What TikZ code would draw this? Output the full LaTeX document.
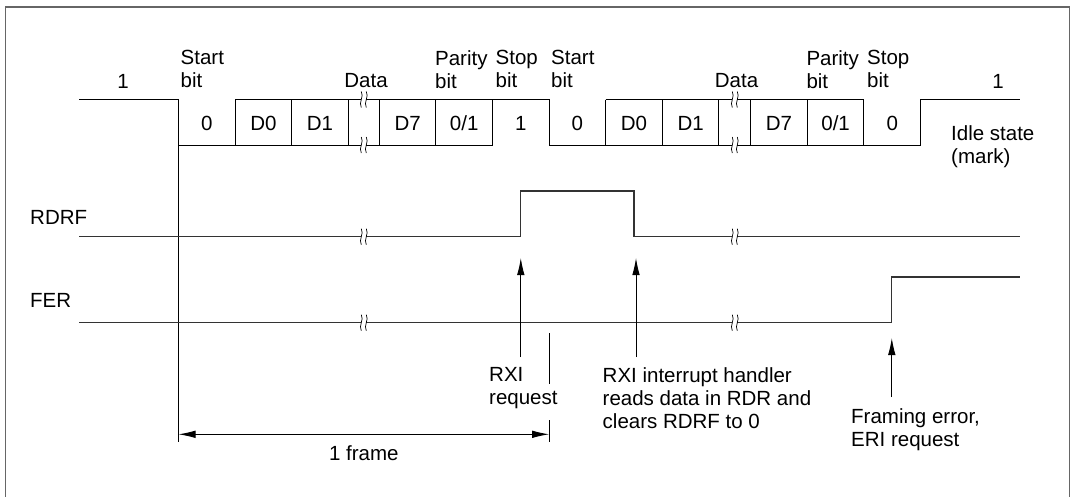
\documentclass[tikz,border=0pt]{standalone}
\usepackage{fontspec}
\setmainfont{Liberation Sans}
\usetikzlibrary{arrows.meta}

\tikzset{
  wave/.style={line width=1pt},
  flagline/.style={line width=1.3pt, black!80},
  txt/.style={inner sep=0pt, align=left},
  multi/.style={txt, anchor=north west, execute at begin node={\rule{0pt}{15pt}}},
  evt/.style={-{Latex[length=17pt,width=7.5pt]}, line width=0.9pt},
}

\begin{document}
\begin{tikzpicture}[x=1pt, y=-1pt, font=\fontsize{20.5}{23.3}\selectfont]
  \useasboundingbox (0,0) rectangle (1074,496);

  % Frame
  \draw[black!60, line width=1.2pt] (5.5,497) -- (5.5,7) -- (1069.5,7) -- (1069.5,497);

  % Serial data line
  \draw[wave] (79,99.5) -- (178.5,99.5) -- (178.5,442);
  \draw[wave] (178.5,145) -- (492.5,145) -- (492.5,99.5);
  \draw[wave] (235.1,99.5) -- (549.1,99.5) -- (549.1,145) -- (920.5,145) -- (920.5,99.5) -- (1019.5,99.5);
  \draw[wave] (605.7,99.5) -- (863.9,99.5);
  \foreach \x in {235.1,291.7,348.3,379.3,435.9,605.7,662.3,718.9,750.7,807.3,863.9}
    \draw[wave] (\x,99.5) -- (\x,145);

  % RDRF and FER flags
  \draw[flagline] (79,236.7) -- (520.8,236.7) -- (520.8,191) -- (634,191) -- (634,236.7) -- (1019.5,236.7);
  \draw[flagline] (79,322.7) -- (891.8,322.7) -- (891.8,277) -- (1019.5,277);

  % Break marks
  \foreach \bx in {363.8,734.8}
    \foreach \by in {99.5,145,236.7,322.7}{
      \fill[white] (\bx-2.5,\by-1.5) rectangle (\bx+2.5,\by+1.5);
      \draw[line width=0.7pt] (\bx-2.5,\by-8) .. controls (\bx+0.5,\by-3) and (\bx-5.5,\by+3) .. (\bx-2.5,\by+8);
      \draw[line width=0.7pt] (\bx+2.5,\by-8) .. controls (\bx+5.5,\by-3) and (\bx-0.5,\by+3) .. (\bx+2.5,\by+8);
    }

  % Bit labels above the line
  \node[txt, anchor=base] (idleA) at (123,88) {1};
  \node[multi] (startA) at (180.5,50) {Start\\bit};
  \node[txt, anchor=base] (dataA) at (366,87) {Data};
  \node[multi] (parityA) at (434.9,50) {Parity\\bit};
  \node[multi] (stopA) at (495.5,50) {Stop\\bit};
  \node[multi] (startB) at (551,50) {Start\\bit};
  \node[txt, anchor=base] (dataB) at (736.5,87) {Data};
  \node[multi] (parityB) at (806.3,50) {Parity\\bit};
  \node[multi] (stopB) at (867,50) {Stop\\bit};
  \node[txt, anchor=base] (idleB) at (998,88) {1};
  \node[multi] (idle) at (951,125) {Idle state\\(mark)};

  % Bit values
  \foreach \x/\t [count=\i] in {206.8/0,263.4/D0,320/D1,407.6/D7,464.2/0\slash 1,520.8/1,
      577.4/0,634/D0,690.6/D1,779/D7,835.6/0\slash 1,892.2/0}
    \node[txt, anchor=base] (bit\i) at (\x,130) {\t};

  % Signal names
  \node[txt, anchor=base west] (rdrf) at (30,224.3) {RDRF};
  \node[txt, anchor=base west] (fer) at (30,307.5) {FER};

  % Events
  \coordinate (rxiTip) at (520.8,258);
  \coordinate (rxiBase) at (520.8,357);
  \draw[evt] (rxiBase) -- (rxiTip);
  \node[multi] (rxi) at (489,367) {RXI\\request};

  \coordinate (readTip) at (636,258);
  \coordinate (readBase) at (636,357);
  \draw[evt] (readBase) -- (readTip);
  \node[multi] (read) at (602.5,367) {RXI interrupt handler\\reads data in RDR and\\clears RDRF to 0};

  \coordinate (ferTip) at (891.8,338);
  \coordinate (ferBase) at (891.8,397);
  \draw[evt] (ferBase) -- (ferTip);
  \node[multi] (eri) at (851,408) {Framing error,\\ERI request};

  % One frame
  \coordinate (frameL) at (178.5,434.3);
  \coordinate (frameR) at (549.1,434.3);
  \draw[wave] (549.1,333) -- (549.1,384);
  \draw[wave] (549.1,420) -- (549.1,442);
  \draw[{Latex[length=17pt,width=7.5pt]}-{Latex[length=17pt,width=7.5pt]}, line width=0.9pt] (frameL) -- (frameR);
  \node[txt, anchor=base] (frame) at (363.8,460) {1 frame};
\end{tikzpicture}
\end{document}
